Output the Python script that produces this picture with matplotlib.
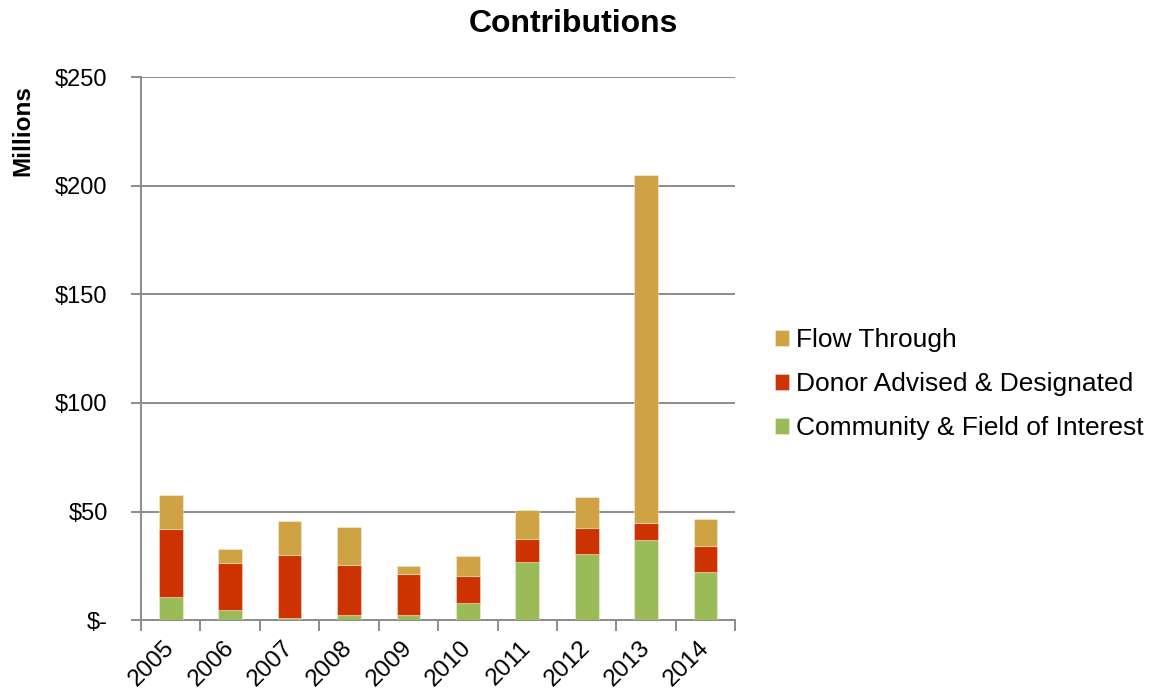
import matplotlib
matplotlib.use("Agg")
import matplotlib.pyplot as plt
import matplotlib.transforms as mtransforms
import numpy as np

years = ["2005", "2006", "2007", "2008", "2009", "2010", "2011", "2012", "2013", "2014"]
community = [10.5, 4.6, 1.1, 2.5, 2.2, 7.9, 27.0, 30.6, 36.9, 22.2]
donor = [31.6, 21.5, 29.0, 22.8, 19.1, 12.6, 10.2, 12.0, 7.7, 12.0]
flow = [15.4, 6.8, 15.4, 17.4, 3.7, 9.0, 13.7, 13.9, 160.6, 12.6]
y_ticks = [0, 50, 100, 150, 200, 250]
y_labels = ["$-", "$50", "$100", "$150", "$200", "$250"]

plt.rcParams["font.family"] = ["Liberation Sans", "DejaVu Sans"]

fig = plt.figure(figsize=(11.56, 6.96), dpi=100)
ax = fig.add_axes([0.122, 0.109, 0.514, 0.780])

x = np.arange(len(years))
w = 0.40
c_green, c_red, c_gold = "#9BBB59", "#CC3300", "#CFA243"
edge = dict(edgecolor=(1, 1, 1, 0.35), linewidth=0.8)
b1 = ax.bar(x, community, w, color=c_green, label="Community & Field of Interest", zorder=3, **edge)
b2 = ax.bar(x, donor, w, bottom=community, color=c_red, label="Donor Advised & Designated", zorder=3, **edge)
base2 = np.array(community) + np.array(donor)
b3 = ax.bar(x, flow, w, bottom=base2, color=c_gold, label="Flow Through", zorder=3, **edge)

ax.set_xlim(-0.5, len(years) - 0.5)
ax.set_ylim(0, 250)
ax.set_yticks(y_ticks)
ax.set_yticklabels(y_labels, fontsize=17)
ax.yaxis.grid(True, color="#8c8c8c", linewidth=1.4, zorder=0)
ax.set_axisbelow(True)

# category boundary ticks, labels centred on the bars
ax.set_xticks(np.arange(-0.5, len(years), 1.0))
ax.set_xticklabels([])
ax.set_xticks(x, minor=True)
ax.set_xticklabels(years, minor=True, rotation=45, ha="right", fontsize=17.5)
ax.tick_params(axis="x", which="major", length=8, width=1.4, color="#8c8c8c")
ax.tick_params(axis="x", which="minor", length=0, pad=12)
ax.tick_params(axis="y", length=7, width=1.4, color="#8c8c8c", pad=17)
shift = mtransforms.ScaledTranslation(8 / 100, 0, fig.dpi_scale_trans)
for lab in ax.get_xticklabels(minor=True):
    lab.set_transform(lab.get_transform() + shift)

for s in ["top", "right"]:
    ax.spines[s].set_visible(False)
for s in ["left", "bottom"]:
    ax.spines[s].set_color("#8c8c8c")
    ax.spines[s].set_linewidth(1.4)

fig.text(0.496, 0.9655, "Contributions", ha="center", va="center", fontsize=23, fontweight="bold")
fig.text(0.020, 0.812, "Millions", ha="center", va="center", rotation=90, fontsize=17.5, fontweight="bold")

fig.legend(handles=[b3, b2, b1], loc="center left", bbox_to_anchor=(0.670, 0.448),
           frameon=False, fontsize=19, handlelength=0.55, handleheight=0.55,
           handletextpad=0.28, labelspacing=0.75, borderpad=0, borderaxespad=0)

fig.savefig("out.png", dpi=100)
